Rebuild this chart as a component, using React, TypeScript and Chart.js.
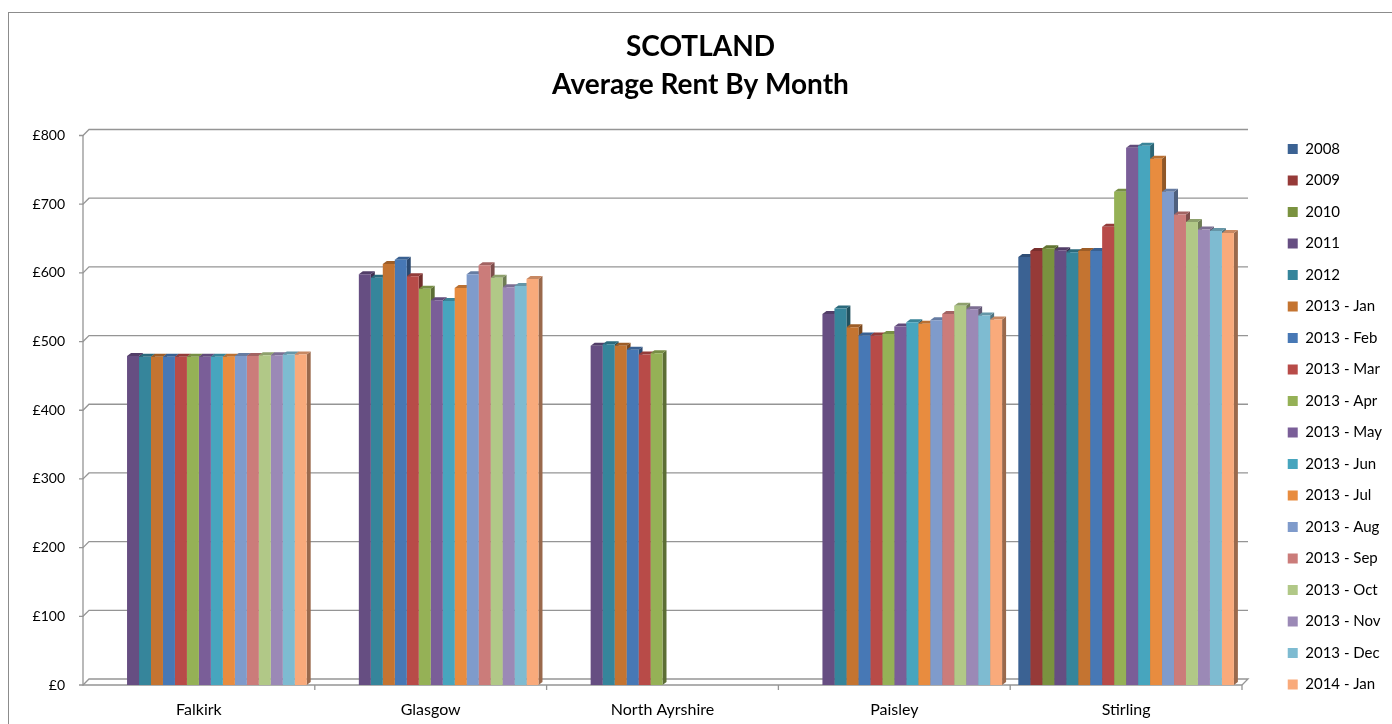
import React, { useEffect, useRef } from "react";
import { Chart, registerables } from "chart.js";

Chart.register(...registerables);

// ---------- data ----------
const categories = ["Falkirk", "Glasgow", "North Ayrshire", "Paisley", "Stirling"];

const seriesNames = [
  "2008", "2009", "2010", "2011", "2012",
  "2013 - Jan", "2013 - Feb", "2013 - Mar", "2013 - Apr", "2013 - May", "2013 - Jun",
  "2013 - Jul", "2013 - Aug", "2013 - Sep", "2013 - Oct", "2013 - Nov", "2013 - Dec",
  "2014 - Jan",
];

const seriesColors = [
  "#3B6293", "#963A38", "#7A923F", "#664E82", "#36859B", "#C47431",
  "#4778B5", "#B84B48", "#95B156", "#7A5E98", "#47A5BE", "#E88C3F",
  "#7F9BCB", "#CB7C7A", "#B1C887", "#9B89B6", "#7EBBD1", "#F9AA7B",
];

// values per series, in category order (Falkirk, Glasgow, North Ayrshire, Paisley, Stirling)
const rent2008 = [null, null, null, null, 623];
const rent2009 = [null, null, null, null, 632];
const rent2010 = [null, null, null, null, 636];
const rent2011 = [479, 598, 494, 540, 633];
const rent2012 = [478, 593, 496, 548, 630];
const rent2013Jan = [478, 613, 494, 521, 632];
const rent2013Feb = [478, 619, 488, 509, 632];
const rent2013Mar = [478, 595, 481, 509, 667];
const rent2013Apr = [478, 577, 483, 511, 718];
const rent2013May = [478, 560, null, 522, 782];
const rent2013Jun = [478, 559, null, 528, 785];
const rent2013Jul = [478, 578, null, 526, 766];
const rent2013Aug = [479, 598, null, 531, 718];
const rent2013Sep = [479, 611, null, 540, 685];
const rent2013Oct = [480, 593, null, 552, 674];
const rent2013Nov = [480, 579, null, 547, 663];
const rent2013Dec = [481, 581, null, 538, 661];
const rent2014Jan = [481, 591, null, 532, 658];

const seriesValues = [
  rent2008, rent2009, rent2010, rent2011, rent2012,
  rent2013Jan, rent2013Feb, rent2013Mar, rent2013Apr, rent2013May, rent2013Jun,
  rent2013Jul, rent2013Aug, rent2013Sep, rent2013Oct, rent2013Nov, rent2013Dec,
  rent2014Jan,
];

const yTickValues = [0, 100, 200, 300, 400, 500, 600, 700, 800];
const titleLines = ["SCOTLAND", "Average Rent By Month"];

// ---------- styling ----------
const FONT = "Lato";
const GRID_COLOR = "#959595";
const WALL_DEPTH = 6;
const BAR_DX = 4;
const BAR_DY = 3;
const CANVAS_W = 1383;
const CANVAS_H = 711;
const LEGEND_FONT = 15;
const LEGEND_BOX = 10;
const LEGEND_PAD = 16.5;
const TITLE_SIZE = 28;

function shade(hex: string, f: number) {
  const n = parseInt(hex.slice(1), 16);
  const r = Math.round(((n >> 16) & 255) * f);
  const g = Math.round(((n >> 8) & 255) * f);
  const b = Math.round((n & 255) * f);
  return `rgb(${r},${g},${b})`;
}

const excel3d = {
  id: "excel3d",
  beforeDatasetsDraw(chart: any) {
    const { ctx, chartArea: ca } = chart;
    const y = chart.scales.y;
    ctx.save();
    ctx.strokeStyle = GRID_COLOR;
    ctx.lineWidth = 1.3;
    // back wall gridlines with side-wall diagonal
    for (const v of yTickValues) {
      const py = y.getPixelForValue(v);
      ctx.beginPath();
      ctx.moveTo(ca.left - 4, py);
      ctx.lineTo(ca.left, py);
      ctx.lineTo(ca.left + WALL_DEPTH, py - WALL_DEPTH);
      ctx.lineTo(ca.right + WALL_DEPTH, py - WALL_DEPTH);
      if (v === 0) ctx.lineTo(ca.right, py);
      ctx.stroke();
    }
    const p0 = y.getPixelForValue(0);
    const pTop = y.getPixelForValue(yTickValues[yTickValues.length - 1]);
    ctx.beginPath();
    ctx.moveTo(ca.left, pTop);
    ctx.lineTo(ca.left, p0);
    ctx.lineTo(ca.right, p0);
    const n = categories.length;
    const cw = (ca.right - ca.left) / n;
    for (let k = 1; k <= n; k++) {
      const px = ca.left + k * cw;
      ctx.moveTo(px, p0);
      ctx.lineTo(px, p0 + 5);
    }
    ctx.stroke();

    // 3D side and top faces of the bars
    chart.data.datasets.forEach((ds: any, di: number) => {
      const meta = chart.getDatasetMeta(di);
      if (meta.hidden) return;
      meta.data.forEach((el: any, i: number) => {
        if (ds.data[i] == null) return;
        const { x: cx, y: top, base, width } = el.getProps(["x", "y", "base", "width"], true);
        const l = cx - width / 2;
        const r = cx + width / 2;
        const c = seriesColors[di];
        ctx.fillStyle = shade(c, 0.62);
        ctx.beginPath();
        ctx.moveTo(r, top);
        ctx.lineTo(r + BAR_DX, top - BAR_DY);
        ctx.lineTo(r + BAR_DX, base - BAR_DY);
        ctx.lineTo(r, base);
        ctx.closePath();
        ctx.fill();
        ctx.fillStyle = shade(c, 0.8);
        ctx.beginPath();
        ctx.moveTo(l, top);
        ctx.lineTo(l + BAR_DX, top - BAR_DY);
        ctx.lineTo(r + BAR_DX, top - BAR_DY);
        ctx.lineTo(r, top);
        ctx.closePath();
        ctx.fill();
      });
    });
    ctx.restore();
  },
};

export default function App() {
  const ref = useRef<HTMLCanvasElement>(null);

  useEffect(() => {
    const canvas = ref.current!;
    const m = canvas.getContext("2d")!;
    m.font = `${LEGEND_FONT}px ${FONT}`;
    const maxText = Math.max(...seriesNames.map((s) => m.measureText(s).width));
    const maxItemW = LEGEND_BOX + LEGEND_FONT / 2 + maxText;
    const targetBoxX = 1284; // canvas px
    const chartRight = 1233; // canvas px
    const chartLeft = 74; // canvas px
    const padR = Math.max(0, CANVAS_W - 10 - maxItemW - targetBoxX);
    const legendW = LEGEND_PAD + maxItemW + 10;
    const legendLeft = CANVAS_W - padR - legendW;
    const spacerW = Math.max(0, legendLeft - chartRight);
    const padL = Math.max(0, padR - 7);

    const chart = new Chart(canvas, {
      type: "bar",
      data: {
        labels: categories,
        datasets: seriesNames.map((name, i) => ({
          label: name,
          data: seriesValues[i],
          backgroundColor: seriesColors[i],
          borderWidth: 0,
          categoryPercentage: 0.93,
          barPercentage: 1.0,
        })),
      },
      options: {
        responsive: false,
        animation: false,
        devicePixelRatio: 1,
        layout: { padding: { left: padL, right: padR, top: 0, bottom: 0 } },
        plugins: {
          title: {
            display: true,
            text: titleLines,
            color: "#000",
            font: { family: FONT, size: TITLE_SIZE, weight: "bold", lineHeight: 38 / TITLE_SIZE },
            padding: { top: 15, bottom: 31.5 },
          },
          legend: {
            display: true,
            position: "right",
            align: "center",
            title: {
              display: true,
              text: "",
              padding: { top: 84.5, bottom: 0 },
              font: { family: FONT, size: 12, lineHeight: 1 },
            },
            labels: {
              boxWidth: LEGEND_BOX,
              boxHeight: LEGEND_BOX,
              padding: LEGEND_PAD,
              color: "#000",
              font: { family: FONT, size: LEGEND_FONT },
            },
          },
          tooltip: { enabled: false },
        },
        scales: {
          x: {
            type: "category",
            grid: { display: false, drawTicks: false },
            border: { display: false },
            ticks: {
              color: "#000",
              font: { family: FONT, size: 16, lineHeight: 1.2 },
              padding: 15.4,
              maxRotation: 0,
            },
            afterFit: (s: any) => {
              s.height = 39;
            },
          },
          y: {
            type: "linear",
            min: 0,
            max: 800,
            grid: { display: false, drawTicks: false },
            border: { display: false },
            ticks: {
              stepSize: 100,
              color: "#000",
              font: { family: FONT, size: 14 },
              padding: 18,
              callback: (v: any) => "£" + v,
            },
            afterFit: (s: any) => {
              s.width = chartLeft - padL;
            },
          },
          spacer: {
            type: "linear",
            position: "right",
            min: 0,
            max: 1,
            grid: { display: false, drawTicks: false },
            border: { display: false },
            ticks: { display: false },
            afterFit: (s: any) => {
              s.width = spacerW;
            },
          },
        },
      },
      plugins: [excel3d],
    } as any);
    return () => chart.destroy();
  }, []);

  return (
    <div
      style={{
        position: "absolute",
        left: 8,
        top: 12,
        width: 1384,
        height: 712,
        borderTop: "1px solid #8c8c8c",
        borderLeft: "1px solid #8c8c8c",
        boxSizing: "border-box",
        background: "#fff",
        overflow: "hidden",
      }}
    >
      <canvas ref={ref} width={CANVAS_W} height={CANVAS_H} style={{ display: "block" }} />
    </div>
  );
}
